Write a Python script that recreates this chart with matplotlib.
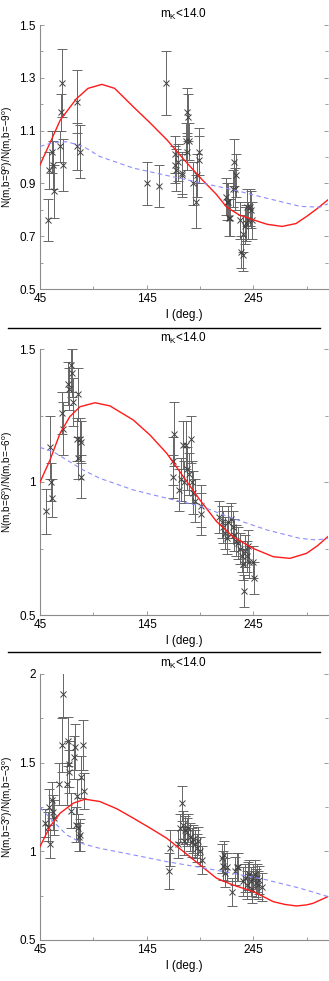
import matplotlib
matplotlib.use("Agg")
import matplotlib.pyplot as plt
from matplotlib.lines import Line2D
from matplotlib.ticker import FixedLocator, FormatStrFormatter

# ---------------- data ----------------
# panel 1 : b = +-9 deg
l1 = [52.8, 53.8, 56.6, 57.5, 58.4, 63.8, 64.4, 65.3, 66.9, 79.4, 79.4, 82.5,
      145.0, 156.9, 162.8, 171.3, 171.9, 172.5, 174.0, 177.8, 178.4, 181.6, 183.0, 184.0, 184.7,
      182.5, 188.0, 191.0, 192.5, 193.8, 194.4,
      219.4, 220.0, 221.6, 222.2, 223.0, 226.3, 227.2, 228.8, 228.0, 232.5, 233.0, 235.6, 235.0,
      237.0, 238.0, 239.4, 240.3, 242.0, 243.4, 242.5]
v1 = [0.76, 0.95, 1.02, 0.97, 0.87, 1.04, 1.17, 1.28, 0.97, 1.21, 1.04, 1.02,
      0.90, 0.89, 1.28, 1.01, 0.97, 0.95, 0.98, 0.94, 0.93, 1.06, 1.17, 1.15, 1.06,
      1.02, 0.90, 0.83, 0.93, 1.02, 0.99,
      0.85, 0.83, 0.83, 0.77, 0.77, 0.88, 0.98, 0.93, 0.88, 0.76, 0.64, 0.63, 0.71,
      0.74, 0.75, 0.81, 0.76, 0.81, 0.76, 0.80]
e1 = [0.08, 0.07, 0.08, 0.09, 0.10, 0.06, 0.07, 0.13, 0.10, 0.12, 0.09, 0.10,
      0.08, 0.08, 0.12, 0.07, 0.07, 0.08, 0.07, 0.08, 0.08, 0.07, 0.09, 0.09, 0.07,
      0.07, 0.08, 0.10, 0.08, 0.09, 0.09,
      0.07, 0.07, 0.07, 0.07, 0.07, 0.07, 0.09, 0.08, 0.08, 0.07, 0.06, 0.06, 0.07,
      0.07, 0.07, 0.07, 0.07, 0.07, 0.07, 0.07]
c1_l = [45, 54, 64, 79, 90, 103, 115, 132.5, 148, 164, 180, 197, 210, 220, 232, 245, 258, 272, 285, 295, 305, 315]
red1 = [0.97, 1.05, 1.14, 1.22, 1.26, 1.275, 1.26, 1.19, 1.13, 1.065, 0.99, 0.914, 0.86, 0.81, 0.78,
        0.762, 0.745, 0.737, 0.748, 0.775, 0.805, 0.838]
c1b_l = [45, 57.5, 70, 85.6, 101, 132.5, 163.8, 195, 226, 257.5, 288.8, 307.5, 315]
blue1 = [1.040, 1.055, 1.058, 1.040, 1.002, 0.958, 0.930, 0.903, 0.876, 0.844, 0.813, 0.810, 0.823]
yt1 = [0.5, 0.7, 0.9, 1.1, 1.3, 1.5]
yt1_minor = [0.6, 0.8, 1.0, 1.2, 1.4]

# panel 2 : b = +-6 deg
l2 = [50.6, 54.4, 55.3, 56.6, 65.3, 66.9, 70.9, 72.2, 73.8, 75.3, 76.3, 80.9, 80.0, 82.5, 83.4, 80.9, 83.4,
      170.9, 179.4, 181.9, 186.6, 169.4, 170.0, 175.6, 176.9, 180.0, 182.5, 185.0, 187.2, 188.8, 190.3,
      195.6, 195.6,
      213.0, 215.3, 216.9, 218.4, 220.0, 221.6, 223.8, 225.6, 226.9, 228.8, 230.9, 232.5, 234.0, 235.6,
      237.0, 239.4, 241.3, 244.4, 246.0, 236.6, 240.3]
v2 = [0.89, 1.13, 1.00, 0.94, 1.26, 1.20, 1.37, 1.35, 1.44, 1.41, 1.30, 1.33, 1.16, 1.16, 1.15, 1.09, 1.02,
      1.18, 1.14, 1.14, 1.16, 1.08, 1.02, 0.97, 1.01, 1.00, 1.05, 1.03, 1.00, 0.96, 0.93,
      0.91, 0.88,
      0.87, 0.85, 0.83, 0.81, 0.79, 0.85, 0.86, 0.83, 0.80, 0.78, 0.77, 0.75, 0.72, 0.69,
      0.74, 0.72, 0.70, 0.70, 0.64, 0.59, 0.76]
e2 = [0.085, 0.12, 0.07, 0.07, 0.08, 0.10, 0.08, 0.08, 0.10, 0.09, 0.09, 0.10, 0.08, 0.08, 0.08, 0.08, 0.08,
      0.12, 0.09, 0.09, 0.09, 0.09, 0.08, 0.08, 0.08, 0.08, 0.08, 0.08, 0.08, 0.08, 0.08,
      0.08, 0.08,
      0.06, 0.06, 0.06, 0.06, 0.06, 0.06, 0.06, 0.06, 0.06, 0.06, 0.06, 0.06, 0.06, 0.06,
      0.06, 0.06, 0.06, 0.06, 0.06, 0.06, 0.06]
c2_l = [45, 54.4, 63.8, 73, 82.5, 96.6, 110.6, 132.5, 148, 163.8, 179.4, 195, 210.6, 226, 245, 263.8,
        279.4, 295, 305, 315]
red2 = [0.999, 1.083, 1.183, 1.246, 1.283, 1.298, 1.286, 1.233, 1.177, 1.108, 1.02, 0.932, 0.851, 0.794,
        0.750, 0.719, 0.713, 0.732, 0.760, 0.795]
c2b_l = [45, 57.5, 70, 85.6, 101, 132.5, 163.8, 195, 226, 257.5, 288.8, 304.4, 315]
blue2 = [1.130, 1.114, 1.083, 1.045, 1.014, 0.970, 0.939, 0.910, 0.863, 0.820, 0.788, 0.782, 0.788]
yt2 = [0.5, 1.0, 1.5]
yt2_minor = [0.75, 1.25]

# panel 3 : b = +-3 deg
l3 = [49.7, 52.2, 53.8, 54.4, 55.9, 57.0, 58.0, 63.0, 65.3, 66.9, 70.0, 71.6, 72.2, 72.5, 73.8, 76.9,
      78.1, 78.8, 79.4, 80.9, 81.6, 82.5, 83.4, 85.0, 86.6,
      166.9, 165.9, 177.8, 174.0, 176.0, 179.4, 181.0, 182.5, 184.0, 185.6, 187.2, 188.8, 190.3, 191.9,
      193.4, 195.0, 196.6, 180.0,
      215.3, 216.3, 217.5, 218.4, 220.0, 225.3, 227.8, 229.4, 230.9, 235.0, 237.2, 238.8, 240.3, 241.3,
      242.5, 243.4, 245.0, 246.6, 247.5, 248.8, 249.7, 250.6, 252.8]
v3 = [1.16, 1.14, 1.25, 1.04, 1.29, 1.22, 1.19, 1.38, 1.60, 1.89, 1.38, 1.62, 1.49, 1.45, 1.23, 1.53,
      1.59, 1.15, 1.31, 1.13, 1.08, 1.09, 1.42, 1.60, 1.34,
      1.02, 0.89, 1.27, 1.04, 1.13, 1.15, 1.12, 1.11, 1.13, 1.08, 1.05, 1.07, 1.04, 1.02,
      1.06, 1.00, 0.95, 1.06,
      0.96, 0.92, 0.98, 0.88, 0.91, 0.77, 0.89, 0.91, 0.91, 0.83, 0.85, 0.81, 0.86, 0.87,
      0.83, 0.79, 0.85, 0.87, 0.82, 0.85, 0.81, 0.84, 0.80]
e3 = [0.08, 0.08, 0.10, 0.08, 0.10, 0.10, 0.10, 0.12, 0.15, 0.13, 0.12, 0.14, 0.13, 0.12, 0.10, 0.12,
      0.13, 0.10, 0.10, 0.08, 0.08, 0.09, 0.12, 0.14, 0.10,
      0.10, 0.10, 0.10, 0.08, 0.08, 0.08, 0.08, 0.08, 0.08, 0.08, 0.08, 0.08, 0.08, 0.08,
      0.08, 0.08, 0.08, 0.08,
      0.08, 0.08, 0.08, 0.08, 0.08, 0.08, 0.08, 0.08, 0.08, 0.08, 0.08, 0.08, 0.08, 0.08,
      0.08, 0.08, 0.08, 0.08, 0.08, 0.08, 0.08, 0.08, 0.08]
c3_l = [45, 54.4, 63.8, 76.3, 87.2, 101, 117, 132.5, 148, 163.8, 179.4, 195, 210.6, 226, 245, 263.8,
        275, 285.6, 295, 301, 315]
red3 = [1.027, 1.14, 1.215, 1.272, 1.294, 1.281, 1.240, 1.187, 1.132, 1.074, 0.999, 0.923, 0.848, 0.810,
        0.773, 0.716, 0.700, 0.692, 0.698, 0.707, 0.745]
c3b_l = [45, 57.5, 70, 85.6, 101, 132.5, 163.8, 195, 226, 257.5, 288.8, 315]
blue3 = [1.249, 1.168, 1.093, 1.042, 1.017, 0.980, 0.942, 0.910, 0.876, 0.839, 0.792, 0.745]
yt3 = [0.5, 1.0, 1.5, 2.0]
yt3_minor = [0.75, 1.25, 1.75]

xt = [45, 145, 245]
xt_minor = [95, 195, 295]

panels = [
    dict(l=l1, v=v1, e=e1, cl=c1_l, red=red1, cbl=c1b_l, blue=blue1, ylim=(0.5, 1.5),
         yt=yt1, ytm=yt1_minor, ylabel="N(m,b=9$^o$)/N(m,b=\u22129$^o$)", fmt="%.1f"),
    dict(l=l2, v=v2, e=e2, cl=c2_l, red=red2, cbl=c2b_l, blue=blue2, ylim=(0.5, 1.5),
         yt=yt2, ytm=yt2_minor, ylabel="N(m,b=6$^o$)/N(m,b=\u22126$^o$)", fmt="%g"),
    dict(l=l3, v=v3, e=e3, cl=c3_l, red=red3, cbl=c3b_l, blue=blue3, ylim=(0.5, 2.0),
         yt=yt3, ytm=yt3_minor, ylabel="N(m,b=3$^o$)/N(m,b=\u22123$^o$)", fmt="%g"),
]

# ---------------- figure ----------------
W, H = 329, 981
plt.rcParams['font.family'] = ['Liberation Sans', 'DejaVu Sans']
plt.rcParams['mathtext.fontset'] = 'custom'
plt.rcParams['mathtext.rm'] = 'Liberation Sans'
plt.rcParams['mathtext.it'] = 'Liberation Sans'
fig = plt.figure(figsize=(W / 100, H / 100), dpi=100)

tops = [25, 349, 674]
bots = [289, 615, 940]
left_px, right_px = 40, 328

for p, t, b in zip(panels, tops, bots):
    ax = fig.add_axes([left_px / W, 1 - b / H, (right_px - left_px) / W, (b - t) / H])
    ax.errorbar(p["l"], p["v"], yerr=p["e"], fmt='x', color='0.25', ecolor='0.4',
                elinewidth=0.7, capsize=3.5, capthick=0.7, markersize=4, mew=0.7, zorder=2)
    ax.plot(p["cl"], p["red"], color='#ff1a1a', lw=1.0, zorder=3)
    ax.plot(p["cbl"], p["blue"], color='#8c8cff', lw=0.8, dashes=(4, 3), zorder=3)
    ax.set_xlim(45, 315)
    ax.set_ylim(*p["ylim"])
    ax.set_xticks(xt)
    ax.set_xticks(xt_minor, minor=True)
    ax.yaxis.set_major_locator(FixedLocator(p["yt"]))
    ax.yaxis.set_minor_locator(FixedLocator(p["ytm"]))
    ax.yaxis.set_major_formatter(FormatStrFormatter(p["fmt"]))
    for s in ['top', 'right']:
        ax.spines[s].set_visible(False)
    for s in ['left', 'bottom']:
        ax.spines[s].set_color('0.55')
        ax.spines[s].set_linewidth(0.8)
    ax.tick_params(which='both', direction='in', left=True, right=True, bottom=True, top=False,
                   color='0.55', labelsize=8.5, pad=3)
    ax.tick_params(which='major', length=3, width=0.6)
    ax.tick_params(which='minor', length=2, width=0.6)
    ax.set_title("m$_K$<14.0", fontsize=8.5, pad=5)
    ax.set_xlabel("l (deg.)", fontsize=8.5, labelpad=3)
    ax.set_ylabel(p["ylabel"], fontsize=7.2)
    ax.yaxis.set_label_coords(-0.088, 0.5)

# separator lines
for ypx in [328, 652]:
    fig.add_artist(Line2D([8 / W, 320 / W], [1 - ypx / H, 1 - ypx / H], color='black', lw=1.0,
                          transform=fig.transFigure))

fig.savefig("out.png", dpi=100)
